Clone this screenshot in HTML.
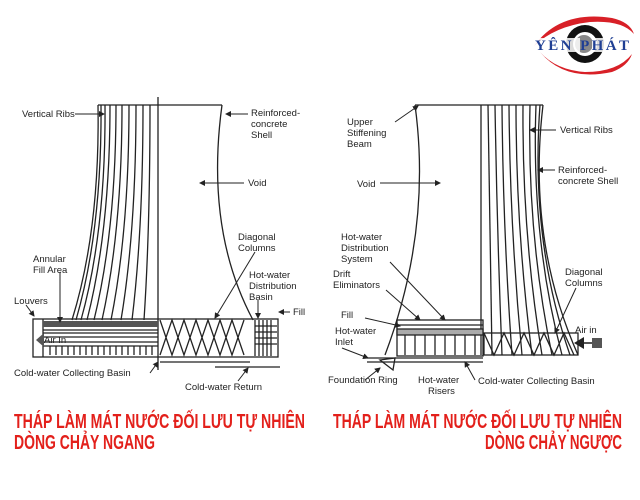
<!DOCTYPE html>
<html><head><meta charset="utf-8"><style>
html,body{margin:0;padding:0;background:#fff;width:640px;height:500px;overflow:hidden}
svg{display:block}
.t{font-family:"Liberation Sans",sans-serif;font-size:9.5px;fill:#222}
.r{font-family:"Liberation Sans","Noto Sans CJK SC",sans-serif;font-weight:bold;font-size:20px;fill:#e3201b}
</style></head><body>
<svg width="640" height="500" viewBox="0 0 640 500" xmlns="http://www.w3.org/2000/svg">
<defs><marker id="a" markerWidth="6" markerHeight="6" refX="5" refY="3" orient="auto"><path d="M0,0 L6,3 L0,6z" fill="#222"/></marker></defs>
<!-- logo -->
<g>
<path d="M534,46 Q560,10 612,18 Q630,22 634,34 Q622,20 590,22 Q555,26 534,46z" fill="#d82027"/>
<path d="M540,52 Q565,82 612,72 Q628,66 632,54 Q618,72 585,72 Q556,70 540,52z" fill="#d82027"/>
<circle cx="585" cy="44" r="19" fill="#111"/>
<circle cx="585" cy="44" r="12" fill="#fff"/>
<circle cx="584" cy="44" r="9" fill="#888"/>
<rect x="534" y="38" width="46" height="14" fill="#fff" opacity="0.85"/>
<rect x="592" y="38" width="37" height="14" fill="#fff" opacity="0.85"/>
<text x="535" y="50" font-family="Liberation Serif,serif" font-weight="bold" font-size="15" fill="#1f3f94" textLength="94">YÊN PHÁT</text>
</g>
<g fill="none" stroke="#222" stroke-width="1.3">
<!-- left tower -->
<line x1="98" y1="105" x2="222" y2="105"/>
<line x1="158" y1="97" x2="158" y2="370"/>
<path d="M98,105 Q100,230 72,320"/>
<path d="M222,105 Q205,230 253,320"/>
<path d="M101,105 Q102,230 76,320"/><path d="M105,105 Q106,230 81,320"/><path d="M110,105 Q110,230 87,320"/>
<path d="M116,105 Q116,230 94,320"/><path d="M122,105 Q122,230 102,320"/><path d="M129,105 Q129,230 111,320"/>
<path d="M136,105 Q136,230 121,320"/><path d="M143,105 Q143,230 132,320"/><path d="M150,105 Q150,230 144,320"/>
<rect x="33" y="319" width="245" height="38"/>
<line x1="43" y1="319" x2="43" y2="357"/>
<rect x="43" y="321" width="115" height="6" fill="#555" stroke="none"/>
<line x1="43" y1="330" x2="158" y2="330"/><line x1="43" y1="333" x2="158" y2="333"/>
<line x1="43" y1="337" x2="158" y2="337"/><line x1="43" y1="342" x2="158" y2="342"/>
<line x1="43" y1="346" x2="158" y2="346"/>
<path d="M50,346V355M56,346V355M62,346V355M68,346V355M74,346V355M80,346V355M86,346V355M92,346V355M98,346V355M104,346V355M110,346V355M116,346V355M122,346V355M128,346V355M134,346V355M140,346V355M146,346V355M152,346V355"/>
<path d="M160,320 L172,355 L184,320 L196,355 L208,320 L220,355 L232,320 L244,355 M160,355 L172,320 L184,355 L196,320 L208,355 L220,320 L232,355 L244,320"/>
<path d="M255,320V356M259,320V356M263,320V356M267,320V356M271,320V356M255,326H277M255,332H277M255,338H277M255,344H277"/>
<line x1="160" y1="362" x2="250" y2="362"/>
<line x1="215" y1="367" x2="280" y2="367"/>
<!-- right tower -->
<line x1="415" y1="105" x2="543" y2="105"/>
<line x1="481" y1="105" x2="481" y2="355"/>
<path d="M415,105 Q432,230 385,355"/>
<path d="M543,105 Q527,240 578,355"/>
<path d="M488,105 Q490,230 492,355"/><path d="M495,105 Q497,230 502,355"/><path d="M502,105 Q503,230 512,355"/>
<path d="M509,105 Q510,230 522,355"/><path d="M516,105 Q516,230 532,355"/><path d="M523,105 Q522,235 542,355"/>
<path d="M530,105 Q527,235 552,355"/><path d="M536,105 Q531,238 562,355"/><path d="M540,105 Q530,240 570,355"/>
<rect x="484" y="333" width="94" height="22"/>
<path d="M484,333 L494,355 L504,333 L514,355 L524,333 L534,355 L544,333 L554,355 L564,333 L574,355"/>
<rect x="397" y="320" width="86" height="36"/>
<line x1="397" y1="325" x2="483" y2="325"/>
<rect x="397" y="329" width="86" height="6" fill="#aaa"/>
<path d="M405,335V355M415,335V355M425,335V355M435,335V355M445,335V355M455,335V355M465,335V355M475,335V355"/>
<line x1="367" y1="358" x2="483" y2="358"/>
<line x1="367" y1="362" x2="483" y2="362"/>
<path d="M380,360 L395,358 L393,370 z"/>
</g>
<!-- arrows -->
<g stroke="#222" stroke-width="1" fill="none" marker-end="url(#a)">
<line x1="75" y1="114" x2="104" y2="114"/>
<line x1="248" y1="114" x2="226" y2="114"/>
<line x1="244" y1="183" x2="200" y2="183"/>
<line x1="255" y1="252" x2="215" y2="318"/>
<line x1="60" y1="272" x2="60" y2="322"/>
<line x1="26" y1="305" x2="34" y2="316"/>
<line x1="258" y1="300" x2="258" y2="318"/>
<line x1="290" y1="312" x2="279" y2="312"/>
<line x1="150" y1="373" x2="158" y2="362"/>
<line x1="238" y1="381" x2="248" y2="368"/>
<line x1="395" y1="122" x2="418" y2="106"/>
<line x1="556" y1="130" x2="530" y2="130"/>
<line x1="555" y1="170" x2="538" y2="170"/>
<line x1="380" y1="183" x2="440" y2="183"/>
<line x1="390" y1="262" x2="445" y2="320"/>
<line x1="386" y1="290" x2="420" y2="320"/>
<line x1="576" y1="288" x2="555" y2="333"/>
<line x1="365" y1="318" x2="400" y2="326"/>
<line x1="342" y1="348" x2="368" y2="358"/>
<line x1="365" y1="380" x2="380" y2="368"/>
<line x1="475" y1="380" x2="465" y2="362"/>
</g>
<path d="M584,342 H592 V338 H602 V348 H592 V344 H584z" fill="#555"/>
<path d="M574,343 L584,337 L584,349z" fill="#222"/>
<path d="M36,340 L44,333 L44,347z" fill="#555"/>
<!-- labels -->
<text class="t" x="22" y="117">Vertical Ribs</text>
<text class="t" x="251" y="116">Reinforced-</text>
<text class="t" x="251" y="127">concrete</text>
<text class="t" x="251" y="138">Shell</text>
<text class="t" x="248" y="186">Void</text>
<text class="t" x="238" y="240">Diagonal</text>
<text class="t" x="238" y="251">Columns</text>
<text class="t" x="33" y="262">Annular</text>
<text class="t" x="33" y="273">Fill Area</text>
<text class="t" x="249" y="278">Hot-water</text>
<text class="t" x="249" y="289">Distribution</text>
<text class="t" x="249" y="300">Basin</text>
<text class="t" x="14" y="304">Louvers</text>
<text class="t" x="293" y="315">Fill</text>
<text class="t" x="44" y="343">Air In</text>
<text class="t" x="14" y="376">Cold-water Collecting Basin</text>
<text class="t" x="185" y="390">Cold-water Return</text>
<text class="t" x="347" y="125">Upper</text>
<text class="t" x="347" y="136">Stiffening</text>
<text class="t" x="347" y="147">Beam</text>
<text class="t" x="560" y="133">Vertical Ribs</text>
<text class="t" x="558" y="173">Reinforced-</text>
<text class="t" x="558" y="184">concrete Shell</text>
<text class="t" x="357" y="187">Void</text>
<text class="t" x="341" y="240">Hot-water</text>
<text class="t" x="341" y="251">Distribution</text>
<text class="t" x="341" y="262">System</text>
<text class="t" x="333" y="277">Drift</text>
<text class="t" x="333" y="288">Eliminators</text>
<text class="t" x="565" y="275">Diagonal</text>
<text class="t" x="565" y="286">Columns</text>
<text class="t" x="341" y="318">Fill</text>
<text class="t" x="335" y="334">Hot-water</text>
<text class="t" x="335" y="345">Inlet</text>
<text class="t" x="575" y="333">Air in</text>
<text class="t" x="328" y="383">Foundation Ring</text>
<text class="t" x="418" y="383">Hot-water</text>
<text class="t" x="428" y="394">Risers</text>
<text class="t" x="478" y="384">Cold-water Collecting Basin</text>
<!-- titles -->
<text class="r" x="14" y="428" textLength="291" lengthAdjust="spacingAndGlyphs">THÁP LÀM MÁT NƯỚC ĐỐI LƯU TỰ NHIÊN</text>
<text class="r" x="14" y="449" textLength="141" lengthAdjust="spacingAndGlyphs">DÒNG CHẢY NGANG</text>
<text class="r" x="333" y="428" textLength="289" lengthAdjust="spacingAndGlyphs">THÁP LÀM MÁT NƯỚC ĐỐI LƯU TỰ NHIÊN</text>
<text class="r" x="485" y="449" textLength="137" lengthAdjust="spacingAndGlyphs">DÒNG CHẢY NGƯỢC</text>
</svg>
</body></html>
